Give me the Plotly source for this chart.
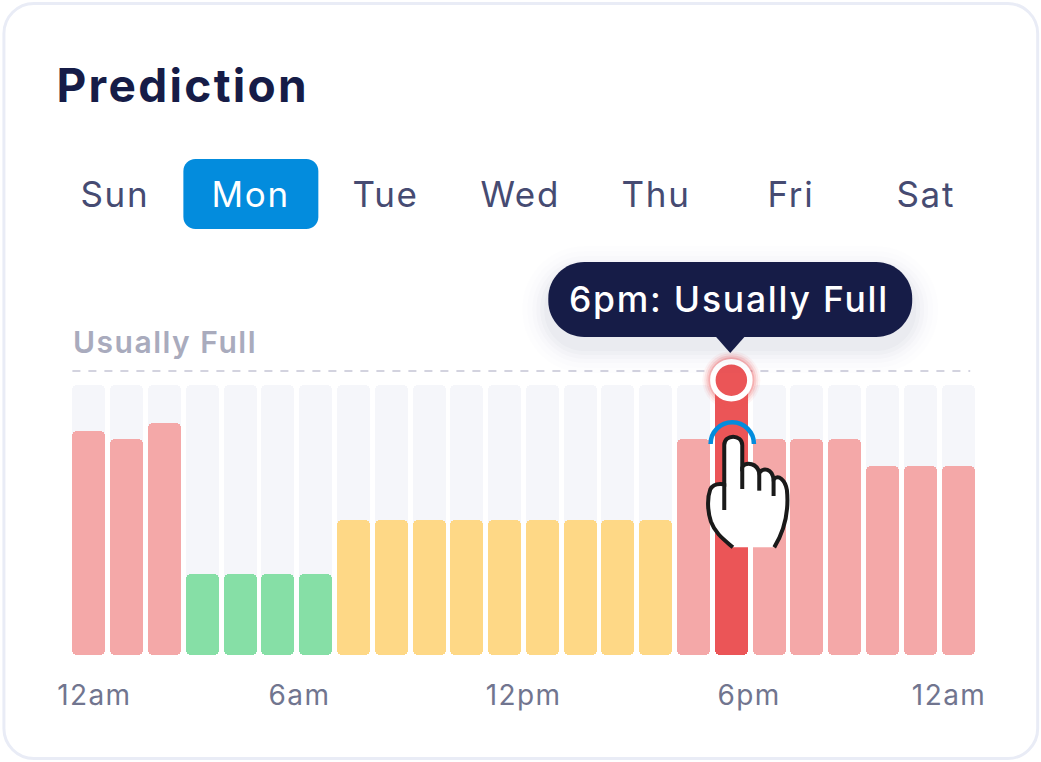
import plotly.graph_objects as go

# chart values
hours = list(range(24))
occupancy = [83, 80, 86, 30, 30, 30, 30, 50, 50, 50, 50, 50, 50, 50, 50, 50, 80, 100, 80, 80, 80, 70, 70, 70]
levels = ["busy"] * 3 + ["quiet"] * 4 + ["medium"] * 9 + ["busy", "now"] + ["busy"] * 6
days = ["Sun", "Mon", "Tue", "Wed", "Thu", "Fri", "Sat"]
tick_labels = ["12am", "6am", "12pm", "6pm", "12am"]
tick_hours = [0.145, 5.57, 11.5, 17.47, 22.76]
selected_hour = 17
selected_value = 101.8
threshold_label = "Usually Full"
tooltip = "6pm: Usually Full"

NAVY = "#161C47"
BLUE = "#038CDD"
colors = {"busy": "#F4A8A8", "quiet": "#86DFA6", "medium": "#FED886", "now": "#EB5557"}
FONT = "Inter"

# plot area in page pixels, y axis runs to 110 so the marker above the bars stays in range
W, H = 1041, 762
LEFT, RIGHT, TOP, BOTTOM = 69.6, 976.8, 358, 655
CAP = 5  # bars are split here so both ends get rounded corners


def px(x):
    return (x - LEFT) / (RIGHT - LEFT)


def py(y):
    return (BOTTOM - y) / (BOTTOM - TOP)


def path(cmds, zoom=False):
    out = []
    is_x = True
    for tok in cmds.split():
        if tok.isalpha():
            out.append(tok)
            is_x = True
            continue
        v = float(tok)
        if is_x:
            v = 540 + v / 3 if zoom else v
            out.append(f"{px(v):.5f}")
        else:
            v = 250 + v / 3 if zoom else v
            out.append(f"{py(v):.5f}")
        is_x = not is_x
    return " ".join(out)


def round_rect(x0, y0, x1, y1, r):
    k = r * 0.45
    return path(
        f"M {x0 + r} {y0} L {x1 - r} {y0} C {x1 - k} {y0} {x1} {y0 + k} {x1} {y0 + r} "
        f"L {x1} {y1 - r} C {x1} {y1 - k} {x1 - k} {y1} {x1 - r} {y1} "
        f"L {x0 + r} {y1} C {x0 + k} {y1} {x0} {y1 - k} {x0} {y1 - r} "
        f"L {x0} {y0 + r} C {x0} {y0 + k} {x0 + k} {y0} {x0 + r} {y0} Z"
    )


def shape(d, fill="rgba(0,0,0,0)", line=None, width=0, layer="above", opacity=1):
    return dict(
        type="path", path=d, xref="paper", yref="paper", layer=layer, opacity=opacity,
        fillcolor=fill, line=dict(color=line or "rgba(0,0,0,0)", width=width),
    )


def label(text, x, y, size, color, weight=400, xanchor="center"):
    return dict(
        text=text, x=px(x), y=py(y), xref="paper", yref="paper", showarrow=False,
        xanchor=xanchor, yanchor="middle", font=dict(family=FONT, size=size, color=color, weight=weight),
    )


def add_bars(fig, values, color):
    # plotly rounds both ends unevenly, so overlap an upper and a lower piece to get clean corners
    pieces = [(CAP, [v - CAP for v in values]), (2 * CAP, [-2 * CAP] * len(values))]
    for base, y in pieces:
        fig.add_trace(go.Bar(
            x=hours, y=y, base=base, width=0.873,
            marker=dict(color=color, cornerradius=5, line=dict(width=0)),
        ))


fig = go.Figure()
add_bars(fig, [100] * 24, "#F5F6FA")
add_bars(fig, occupancy, [colors[l] for l in levels])

# selected point with its glow
for size, alpha in [(58, 0.06), (54, 0.1), (50, 0.16), (46, 0.25)]:
    fig.add_trace(go.Scatter(
        x=[selected_hour], y=[selected_value], mode="markers", cliponaxis=False, hoverinfo="skip",
        marker=dict(size=size, color=colors["now"], opacity=alpha, line=dict(width=0)),
    ))
fig.add_trace(go.Scatter(
    x=[selected_hour], y=[selected_value], mode="markers", cliponaxis=False,
    marker=dict(size=37, color=colors["now"], line=dict(color="white", width=5.5)),
))

shapes = [
    shape(round_rect(3.5, 3.5, 1037.5, 758.5, 30), fill="white", line="#E9ECF6", width=3, layer="below"),
    shape(round_rect(183, 159, 318, 229, 12), fill=BLUE, layer="below"),
    dict(type="line", xref="paper", yref="paper", x0=px(72), x1=px(970), y0=py(371), y1=py(371), layer="below",
         line=dict(color="#D3D3DF", width=2, dash="8px,8px")),
]

# tooltip shadow, then pill and pointer
for grow, alpha in [(26, 0.006), (21, 0.008), (16, 0.011), (12, 0.014), (8, 0.018), (4, 0.024)]:
    shapes.append(shape(round_rect(548 - grow, 262 - grow + 10, 912 + grow, 337 + grow + 10, 36 + grow), fill=NAVY, opacity=alpha))
shapes.append(shape(round_rect(548, 262, 912, 337, 36), fill=NAVY))
shapes.append(shape(path("M 715 336 L 745 336 L 730 353 Z"), fill=NAVY))

# tap ring and hand
shapes.append(shape(path("M 511 582 C 511 546 540 517 576 517 C 612 517 641 546 641 582", zoom=True), line=BLUE, width=4.5))
hand = (
    "M 578 892 C 550 868 525 850 512 815 C 502 785 500 745 510 718 C 518 702 535 700 552 703 "
    "L 552 585 C 552 552 605 552 606 585 L 606 650 C 620 635 650 640 657 668 "
    "C 670 652 695 655 700 688 C 715 672 735 690 740 720 C 745 770 740 830 702 892"
)
shapes.append(shape(path(hand + " Z", zoom=True), fill="white"))
shapes.append(shape(path(hand, zoom=True), line="#1A1A1A", width=4))
for d in ["M 552 700 L 552 780", "M 606 650 L 606 717", "M 657 668 L 657 722", "M 700 688 L 700 738"]:
    shapes.append(shape(path(d, zoom=True), line="#1A1A1A", width=4))

# left anchored x values allow for the shift the wider spacing causes after the redraw
annotations = [
    label("Prediction", 66, 85, 46, NAVY, weight=700, xanchor="left"),
    label(threshold_label, 79.5, 342, 30, "#A9ABBD", weight=600, xanchor="left"),
    label(tooltip, 729, 299, 35.5, "white", weight=500),
]
for i, day in enumerate(days):
    annotations.append(label(day, 115 + i * 135.1, 194, 35, "white" if day == "Mon" else "#464B72"))

fig.update_layout(
    width=W, height=H, barmode="overlay", showlegend=False, bargap=0,
    margin=dict(l=LEFT, r=W - RIGHT, t=TOP, b=H - BOTTOM, autoexpand=False),
    paper_bgcolor="white", plot_bgcolor="rgba(0,0,0,0)",
    shapes=shapes, annotations=annotations,
    xaxis=dict(
        range=[-0.5, 23.5], tickmode="array", tickvals=tick_hours, ticktext=tick_labels,
        showgrid=False, zeroline=False, showline=False, ticks="outside", ticklen=15, tickcolor="rgba(0,0,0,0)",
        tickfont=dict(family=FONT, size=28, color="#71758F"),
    ),
    yaxis=dict(range=[0, 110], visible=False),
)

# the reference text is spaced wider than the local Inter, plotly has no letter spacing option
post = """
document.body.style.margin = '0';
var st = document.createElement('style');
st.textContent = 'text { letter-spacing: 0.05em; }';
document.head.appendChild(st);
Plotly.redraw(document.getElementById('{plot_id}'));
"""
fig.write_html("out.html", config={"displayModeBar": False}, post_script=post)
